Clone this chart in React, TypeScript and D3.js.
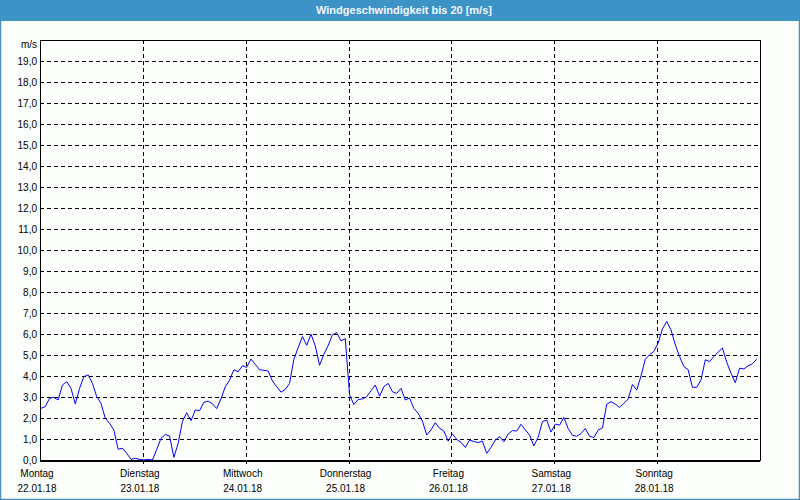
import { useEffect, useRef } from 'react';
import * as d3 from 'd3';

// hourly wind speed [m/s], 22.01.18 00:00 .. 28.01.18 23:00
const day1 = [2.46, 2.54, 2.94, 2.98, 2.86, 3.57, 3.73, 3.41, 2.67, 3.41, 3.97, 4.05, 3.65, 3.02, 2.7, 1.98, 1.75, 1.43, 0.51, 0.56, 0.32, 0.03, 0.08, 0.03];
const day2 = [0.0, 0.03, 0.0, 0.5, 1.03, 1.22, 1.14, 0.13, 0.79, 1.83, 2.25, 1.87, 2.38, 2.35, 2.75, 2.8, 2.68, 2.45, 2.91, 3.49, 3.8, 4.3, 4.2, 4.49];
const day3 = [4.41, 4.81, 4.55, 4.3, 4.27, 4.24, 3.76, 3.49, 3.23, 3.36, 3.65, 4.79, 5.35, 5.88, 5.46, 5.99, 5.43, 4.51, 5.03, 5.45, 5.96, 6.07, 5.67, 5.78];
const day4 = [3.1, 2.64, 2.88, 2.91, 3.01, 3.3, 3.57, 3.04, 3.49, 3.65, 3.25, 3.17, 3.41, 2.86, 2.95, 2.46, 2.22, 1.85, 1.19, 1.43, 1.78, 1.51, 1.38, 0.9];
const day5 = [1.24, 0.98, 0.84, 0.6, 0.95, 0.88, 0.83, 0.9, 0.32, 0.6, 0.95, 1.11, 0.87, 1.24, 1.4, 1.38, 1.7, 1.43, 1.19, 0.67, 1.08, 1.83, 1.9, 1.33];
const day6 = [1.71, 1.66, 2.03, 1.5, 1.18, 1.13, 1.26, 1.5, 1.13, 1.07, 1.42, 1.53, 2.65, 2.78, 2.66, 2.5, 2.7, 2.9, 3.6, 3.33, 4.0, 4.8, 5.01, 5.17];
const day7 = [5.57, 6.24, 6.6, 6.2, 5.49, 4.93, 4.45, 4.3, 3.46, 3.46, 3.81, 4.77, 4.69, 4.93, 5.14, 5.33, 4.66, 4.13, 3.68, 4.37, 4.34, 4.48, 4.58, 4.8];

const windSpeed = [...day1, ...day2, ...day3, ...day4, ...day5, ...day6, ...day7];

const dayNames = ['Montag', 'Dienstag', 'Mittwoch', 'Donnerstag', 'Freitag', 'Samstag', 'Sonntag'];
const dayDates = ['22.01.18', '23.01.18', '24.01.18', '25.01.18', '26.01.18', '27.01.18', '28.01.18'];
const yTicks = d3.range(0, 20, 1);

const title = 'Windgeschwindigkeit bis 20 [m/s]';
const unit = 'm/s';

export default function App() {
  const svgRef = useRef<SVGSVGElement>(null);
  const width = 800;
  const height = 500;

  useEffect(() => {
    if (!svgRef.current) return;
    const svg = d3.select(svgRef.current);
    svg.selectAll('*').remove();

    const font = '"Liberation Sans", Arial, sans-serif';
    const margin = { top: 40, right: 40, bottom: 40, left: 40 };
    const innerWidth = width - margin.left - margin.right;
    const innerHeight = height - margin.top - margin.bottom;

    // background + frame
    svg.append('rect')
      .attr('x', 0.5).attr('y', 0.5)
      .attr('width', width - 1).attr('height', height - 1)
      .attr('fill', '#fbfefb')
      .attr('stroke', '#4b8fbf')
      .attr('stroke-width', 1.5);

    // title bar
    svg.append('rect')
      .attr('x', 0).attr('y', 0)
      .attr('width', width).attr('height', 21)
      .attr('fill', '#3d93c5');

    svg.append('text')
      .attr('x', width / 2 + 4)
      .attr('y', 14)
      .attr('text-anchor', 'middle')
      .attr('fill', '#f2f8ff')
      .style('font-family', font)
      .style('font-size', '11px')
      .style('font-weight', 'bold')
      .text(title);

    const g = svg.append('g')
      .attr('transform', `translate(${margin.left},${margin.top})`);

    // Scales
    const xScale = d3.scaleLinear()
      .domain([0, 168])
      .range([0, innerWidth]);

    const yScale = d3.scaleLinear()
      .domain([0, 20])
      .range([innerHeight, 0]);

    // horizontal grid
    g.selectAll('.hgrid')
      .data(yTicks.filter(d => d > 0))
      .enter().append('line')
      .attr('class', 'hgrid')
      .attr('x1', 0)
      .attr('x2', innerWidth)
      .attr('y1', d => Math.round(yScale(d)) + 0.5)
      .attr('y2', d => Math.round(yScale(d)) + 0.5)
      .attr('stroke', '#000')
      .attr('stroke-dasharray', '4,3')
      .attr('shape-rendering', 'crispEdges');

    // vertical grid (days)
    g.selectAll('.vgrid')
      .data(d3.range(1, 7))
      .enter().append('line')
      .attr('class', 'vgrid')
      .attr('x1', d => Math.round(xScale(d * 24)) + 0.5)
      .attr('x2', d => Math.round(xScale(d * 24)) + 0.5)
      .attr('y1', 0)
      .attr('y2', innerHeight + 4)
      .attr('stroke', '#000')
      .attr('stroke-dasharray', '4,3')
      .attr('shape-rendering', 'crispEdges');

    // plot frame
    g.append('rect')
      .attr('x', 0.5).attr('y', 0.5)
      .attr('width', innerWidth).attr('height', innerHeight)
      .attr('fill', 'none')
      .attr('stroke', '#000')
      .attr('shape-rendering', 'crispEdges');

    g.append('line')
      .attr('x1', 0).attr('x2', innerWidth)
      .attr('y1', innerHeight + 1).attr('y2', innerHeight + 1)
      .attr('stroke', '#000')
      .attr('stroke-width', 2)
      .attr('shape-rendering', 'crispEdges');

    // y labels
    g.selectAll('.ylabel')
      .data(yTicks)
      .enter().append('text')
      .attr('class', 'ylabel')
      .attr('x', -3)
      .attr('y', d => yScale(d))
      .attr('dy', '0.35em')
      .attr('text-anchor', 'end')
      .style('font-family', font)
      .style('font-size', '10px')
      .attr('fill', '#000')
      .text(d => d3.format('.1f')(d).replace('.', ','));

    g.append('text')
      .attr('x', -3)
      .attr('y', 8)
      .attr('text-anchor', 'end')
      .style('font-family', font)
      .style('font-size', '10px')
      .text(unit);

    // x labels
    const xl = g.selectAll('.xlabel')
      .data(dayNames)
      .enter().append('g')
      .attr('class', 'xlabel')
      .attr('transform', (_, i) => `translate(${xScale(i * 24) - 3},0)`);

    xl.append('text')
      .attr('y', innerHeight + 17)
      .attr('text-anchor', 'middle')
      .style('font-family', font)
      .style('font-size', '10px')
      .text(d => d);

    xl.append('text')
      .attr('y', innerHeight + 32)
      .attr('text-anchor', 'middle')
      .style('font-family', font)
      .style('font-size', '10px')
      .text((_, i) => dayDates[i]);

    // Line
    const line = d3.line<number>()
      .x((_, i) => xScale(i) + 1)
      .y(d => yScale(d));

    g.append('path')
      .datum(windSpeed)
      .attr('fill', 'none')
      .attr('stroke', '#0000ff')
      .attr('stroke-width', 1)
      .attr('d', line);
  }, []);

  return (
    <div style={{ position: 'absolute', left: 0, top: 0 }}>
      <svg ref={svgRef} width={width} height={height} style={{ display: 'block' }} />
    </div>
  );
}
